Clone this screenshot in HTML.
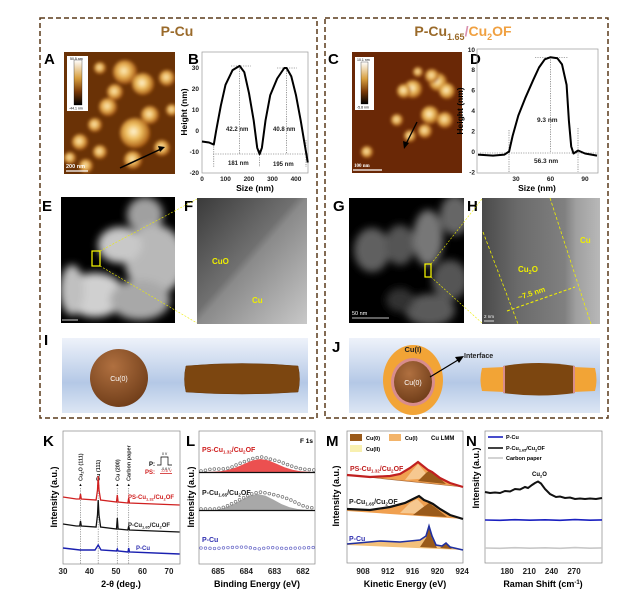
<!DOCTYPE html>
<html><head><meta charset="utf-8"><style>
html,body{margin:0;padding:0;background:#fff;}
svg{display:block;font-family:"Liberation Sans",sans-serif;font-weight:bold;}
</style></head><body>
<svg width="640" height="611" viewBox="0 0 640 611" xmlns="http://www.w3.org/2000/svg">
<defs>
<filter id="bl" x="-20%" y="-20%" width="140%" height="140%"><feGaussianBlur stdDeviation="1.6"/></filter>
<filter id="bl4" x="-30%" y="-30%" width="160%" height="160%"><feGaussianBlur stdDeviation="4"/></filter>
<radialGradient id="afm" cx="0.45" cy="0.45" r="0.55"><stop offset="0" stop-color="#fff6d8"/><stop offset="0.45" stop-color="#f0c060"/><stop offset="1" stop-color="#a85a10"/></radialGradient>
<radialGradient id="afm2" cx="0.45" cy="0.45" r="0.55"><stop offset="0" stop-color="#fff0c0"/><stop offset="0.5" stop-color="#e8b050"/><stop offset="1" stop-color="#a05010"/></radialGradient>
<linearGradient id="cbar" x1="0" y1="0" x2="0" y2="1"><stop offset="0" stop-color="#fff"/><stop offset="0.4" stop-color="#d8a040"/><stop offset="0.7" stop-color="#7a3a08"/><stop offset="1" stop-color="#000"/></linearGradient>
<linearGradient id="blue" x1="0" y1="0" x2="0" y2="1"><stop offset="0" stop-color="#eef2fa"/><stop offset="0.6" stop-color="#b4c8e6"/><stop offset="1" stop-color="#dde6f4"/></linearGradient>
<radialGradient id="sph" cx="0.4" cy="0.3" r="0.75"><stop offset="0" stop-color="#b07040"/><stop offset="1" stop-color="#6e3c18"/></radialGradient>
<linearGradient id="fimg" x1="0" y1="0" x2="1" y2="1"><stop offset="0" stop-color="#3a3a3a"/><stop offset="0.45" stop-color="#707070"/><stop offset="0.5" stop-color="#8a8a8a"/><stop offset="1" stop-color="#c8c8c8"/></linearGradient>
<linearGradient id="himg" x1="0" y1="0" x2="1" y2="0"><stop offset="0" stop-color="#4a4a4a"/><stop offset="0.3" stop-color="#6a6a6a"/><stop offset="0.7" stop-color="#808080"/><stop offset="0.8" stop-color="#a0a0a0"/><stop offset="1" stop-color="#b8b8b8"/></linearGradient>
<clipPath id="cA"><rect x="64" y="52" width="111" height="122"/></clipPath>
<clipPath id="cC"><rect x="352" y="52" width="110" height="121"/></clipPath>
<clipPath id="cE"><rect x="61" y="197" width="114" height="126"/></clipPath>
<clipPath id="cG"><rect x="349" y="198" width="115" height="125"/></clipPath>
</defs>

<rect x="40" y="18" width="277" height="400" fill="none" stroke="#5a3a1a" stroke-width="1.5" stroke-dasharray="5,3"/>
<rect x="325" y="18" width="283" height="400" fill="none" stroke="#5a3a1a" stroke-width="1.5" stroke-dasharray="5,3"/>
<text x="177" y="36" font-size="14" fill="#9a6a2a" text-anchor="middle">P-Cu</text>
<text x="463" y="36" font-size="14" text-anchor="middle"><tspan fill="#9a6a2a">P-Cu</tspan><tspan fill="#9a6a2a" font-size="9" dy="4">1.65</tspan><tspan fill="#d890b0" dy="-4">/</tspan><tspan fill="#f0a040">Cu</tspan><tspan fill="#f0a040" font-size="9" dy="4">2</tspan><tspan fill="#f0a040" dy="-4">OF</tspan></text>

<g font-size="15" fill="#000">
<text x="44" y="64">A</text><text x="188" y="64">B</text>
<text x="328" y="64">C</text><text x="470" y="64">D</text>
<text x="42" y="211">E</text><text x="184" y="211">F</text>
<text x="333" y="211">G</text><text x="467" y="211">H</text>
<text x="44" y="345">I</text><text x="332" y="352">J</text>
<text x="43" y="446">K</text><text x="186" y="446">L</text>
<text x="326" y="446">M</text><text x="466" y="446">N</text>
</g>

<g clip-path="url(#cA)">
<rect x="64" y="52" width="111" height="122" fill="#6a3206"/>
<g filter="url(#bl)">
<circle cx="125" cy="72" r="12" fill="url(#afm2)"/><circle cx="143" cy="84" r="11" fill="url(#afm)"/>
<circle cx="115" cy="92" r="8" fill="url(#afm2)"/><circle cx="150" cy="115" r="9" fill="url(#afm2)"/>
<circle cx="108" cy="107" r="9" fill="url(#afm2)"/><circle cx="95" cy="125" r="7" fill="url(#afm2)"/>
<circle cx="135" cy="133" r="15" fill="url(#afm)"/><circle cx="162" cy="148" r="8" fill="url(#afm2)"/>
<circle cx="133" cy="160" r="9" fill="url(#afm2)"/><circle cx="100" cy="152" r="7" fill="url(#afm2)"/>
<circle cx="80" cy="142" r="8" fill="url(#afm2)"/><circle cx="70" cy="158" r="6" fill="url(#afm2)"/>
<circle cx="167" cy="78" r="8" fill="url(#afm2)"/><circle cx="100" cy="68" r="6" fill="url(#afm2)"/>
<circle cx="172" cy="110" r="6" fill="url(#afm2)"/><circle cx="86" cy="166" r="7" fill="url(#afm2)"/>
</g>
</g>
<rect x="67" y="56" width="21" height="55" fill="#fff"/>
<rect x="74" y="60" width="8" height="45" fill="url(#cbar)" stroke="#000" stroke-width="0.3"/>
<text x="70" y="60" font-size="3.5" font-weight="normal">50.5 nm</text>
<text x="69" y="109.5" font-size="3.5" font-weight="normal">-44.1 nm</text>
<line x1="120" y1="168" x2="161" y2="149" stroke="#000" stroke-width="1.5"/>
<polygon points="165,147 158,146 160,152" fill="#000"/>
<line x1="66" y1="171" x2="88" y2="171" stroke="#fff" stroke-width="1.2"/>
<text x="66" y="168" font-size="5.5" fill="#fff">200 nm</text>

<rect x="202" y="52" width="106" height="121" fill="none" stroke="#999" stroke-width="0.7"/>
<g font-size="6.5" fill="#222" text-anchor="end">
<text x="199" y="70">30</text><text x="199" y="91">20</text><text x="199" y="112">10</text><text x="199" y="133">0</text><text x="199" y="154">-10</text><text x="199" y="175">-20</text>
</g>
<g font-size="6.5" fill="#222" text-anchor="middle">
<text x="202" y="181">0</text><text x="225.5" y="181">100</text><text x="249" y="181">200</text><text x="272.5" y="181">300</text><text x="296" y="181">400</text>
</g>
<text x="255" y="191" font-size="8.5" text-anchor="middle">Size (nm)</text>
<text transform="translate(187,112) rotate(-90)" font-size="8.5" text-anchor="middle">Height (nm)</text>
<g stroke="#555" stroke-width="0.6" stroke-dasharray="1.2,1.2" fill="none">
<line x1="213" y1="154" x2="308" y2="154"/>
<line x1="239.6" y1="66" x2="239.6" y2="154"/><line x1="286.6" y1="68" x2="286.6" y2="154"/>
<line x1="213.8" y1="144" x2="213.8" y2="167"/><line x1="259.6" y1="150" x2="259.6" y2="167"/><line x1="306" y1="140" x2="306" y2="167"/>
<line x1="231" y1="66" x2="251" y2="66"/><line x1="277" y1="68" x2="297" y2="68"/>
</g>
<path d="M202,141.5 L209,142.5 L213.8,144.6 L216.1,131 L220.8,105.8 L225.5,84.8 L232.6,70.1 L239.6,65.9 L244.3,72.2 L249,93.2 L253.7,120.5 L257.2,147.8 L259.6,154.1 L261.9,147.8 L265.5,120.5 L270.2,95.3 L277.2,78.5 L284.3,68 L286.6,68 L291.3,76.4 L296,95.3 L300.7,120.5 L304.2,141.5 L307.8,162.5" fill="none" stroke="#000" stroke-width="2" stroke-linejoin="round"/>
<g font-size="6" fill="#222"><text x="226" y="131">42.2 nm</text><text x="273" y="131">40.8 nm</text><text x="228" y="165">181 nm</text><text x="273" y="166">195 nm</text></g>

<g clip-path="url(#cC)">
<rect x="352" y="52" width="110" height="121" fill="#6a2806"/>
<g filter="url(#bl)">
<circle cx="413" cy="89" r="9" fill="url(#afm)"/><circle cx="404" cy="91" r="7" fill="url(#afm)"/>
<circle cx="438" cy="82" r="9" fill="url(#afm)"/><circle cx="447" cy="91" r="8" fill="url(#afm)"/>
<circle cx="432" cy="76" r="7" fill="url(#afm2)"/><circle cx="430" cy="115" r="9" fill="url(#afm)"/>
<circle cx="445" cy="120" r="8" fill="url(#afm2)"/><circle cx="425" cy="131" r="7" fill="url(#afm2)"/>
<circle cx="397" cy="120" r="6" fill="url(#afm2)"/><circle cx="410" cy="136" r="6" fill="url(#afm2)"/>
<circle cx="367" cy="152" r="6" fill="url(#afm2)"/><circle cx="418" cy="72" r="5" fill="url(#afm2)"/>
</g>
</g>
<rect x="355" y="57" width="19" height="53" fill="#fff"/>
<rect x="361" y="62" width="7" height="42" fill="url(#cbar)" stroke="#000" stroke-width="0.3"/>
<text x="357" y="61" font-size="3.5" font-weight="normal">10.1 nm</text>
<text x="357" y="108.5" font-size="3.5" font-weight="normal">-5.8 nm</text>
<line x1="417" y1="122" x2="406" y2="144" stroke="#000" stroke-width="1.3"/>
<polygon points="404,149 403,141 409,143" fill="#000"/>
<line x1="353" y1="170" x2="382" y2="170" stroke="#fff" stroke-width="1.2"/>
<text x="354" y="167" font-size="5" fill="#fff" font-family="Liberation Serif,serif">100 nm</text>

<rect x="477" y="49" width="121" height="124" fill="none" stroke="#999" stroke-width="0.7"/>
<g font-size="6.5" fill="#222" text-anchor="end">
<text x="475" y="52">10</text><text x="475" y="72">8</text><text x="475" y="92.5">6</text><text x="475" y="113">4</text><text x="475" y="133.5">2</text><text x="475" y="154">0</text><text x="475" y="174.5">-2</text>
</g>
<g font-size="6.5" fill="#222" text-anchor="middle"><text x="516" y="181">30</text><text x="550.5" y="181">60</text><text x="585" y="181">90</text></g>
<text x="537" y="191" font-size="8.5" text-anchor="middle">Size (nm)</text>
<text transform="translate(463,111) rotate(-90)" font-size="8.5" text-anchor="middle">Height (nm)</text>
<g stroke="#555" stroke-width="0.6" stroke-dasharray="1.2,1.2" fill="none">
<line x1="480" y1="153" x2="598" y2="153"/>
<line x1="509" y1="130" x2="509" y2="172"/><line x1="578" y1="128" x2="578" y2="172"/>
<line x1="550.5" y1="57" x2="550.5" y2="153"/><line x1="535" y1="57.5" x2="568" y2="57.5"/>
</g>
<path d="M478,154.6 L493,155.6 L504.5,154.6 L509.1,151.5 L512.6,136 L518.3,115.6 L525.2,98.2 L533.3,79.8 L539,67.5 L544.8,59.3 L550.5,57.2 L557.4,58.3 L562,64.4 L566.6,84.9 L568.9,120.8 L571.2,146.4 L573.5,153.5 L578.1,150.5 L585,153.5 L597,155.6" fill="none" stroke="#000" stroke-width="2" stroke-linejoin="round"/>
<g font-size="6.5" fill="#222"><text x="537" y="122">9.3 nm</text><text x="534" y="163">56.3 nm</text></g>

<g clip-path="url(#cE)">
<rect x="61" y="197" width="114" height="126" fill="#000"/>
<g filter="url(#bl4)" fill="#b8b8b8">
<ellipse cx="145" cy="215" rx="18" ry="18" fill="#a0a0a0"/>
<ellipse cx="155" cy="260" rx="30" ry="35"/>
<ellipse cx="120" cy="245" rx="22" ry="18" fill="#c8c8c8"/>
<ellipse cx="95" cy="295" rx="30" ry="22" fill="#d0d0d0"/>
<ellipse cx="140" cy="300" rx="30" ry="20" fill="#a8a8a8"/>
<ellipse cx="72" cy="290" rx="12" ry="25" fill="#c0c0c0"/>
</g>
</g>
<line x1="62" y1="320" x2="78" y2="320" stroke="#fff" stroke-width="0.8"/>
<rect x="92" y="251" width="8" height="15" fill="none" stroke="#ff0" stroke-width="1.2"/>
<g stroke="#ee0" stroke-width="0.6" stroke-dasharray="2,1.5"><line x1="100" y1="251" x2="197" y2="199"/><line x1="100" y1="266" x2="197" y2="323"/></g>

<rect x="197" y="198" width="110" height="126" fill="url(#fimg)"/>
<text x="212" y="264" font-size="8" fill="#ee0">CuO</text>
<text x="252" y="303" font-size="8" fill="#ee0">Cu</text>

<g clip-path="url(#cG)">
<rect x="349" y="198" width="115" height="125" fill="#000"/>
<g filter="url(#bl4)">
<ellipse cx="372" cy="250" rx="18" ry="22" fill="#606060"/>
<ellipse cx="400" cy="245" rx="15" ry="20" fill="#555"/>
<ellipse cx="428" cy="238" rx="15" ry="28" fill="#777"/>
<ellipse cx="455" cy="215" rx="15" ry="20" fill="#666"/>
<ellipse cx="450" cy="280" rx="18" ry="20" fill="#555"/>
<ellipse cx="430" cy="310" rx="25" ry="16" fill="#5a5a5a"/>
<ellipse cx="400" cy="300" rx="14" ry="12" fill="#333"/>
</g>
</g>
<line x1="352" y1="318" x2="389" y2="318" stroke="#fff" stroke-width="0.8"/>
<text x="352" y="315" font-size="5.5" fill="#fff" font-weight="normal">50 nm</text>
<rect x="425" y="264" width="6" height="13" fill="none" stroke="#ff0" stroke-width="1.2"/>
<g stroke="#ee0" stroke-width="0.6" stroke-dasharray="2,1.5"><line x1="431" y1="264" x2="482" y2="199"/><line x1="431" y1="277" x2="482" y2="323"/></g>

<rect x="482" y="198" width="118" height="126" fill="url(#himg)"/>
<g stroke="#ee0" stroke-width="0.8" stroke-dasharray="3,2" fill="none">
<line x1="483" y1="232" x2="518" y2="324"/><line x1="550" y1="198" x2="591" y2="324"/>
<line x1="507" y1="311" x2="575" y2="287" stroke-width="1.1"/>
</g>
<text x="518" y="272" font-size="8" fill="#ee0">Cu<tspan font-size="5.5" dy="2">2</tspan><tspan dy="-2">O</tspan></text>
<text transform="translate(519,300) rotate(-18)" font-size="7.5" fill="#ee0">~7.5 nm</text>
<text x="580" y="243" font-size="8" fill="#ee0">Cu</text>
<line x1="484" y1="321" x2="494" y2="321" stroke="#fff" stroke-width="0.8"/>
<text x="484" y="318" font-size="4.5" fill="#fff" font-weight="normal">2 nm</text>

<rect x="62" y="338" width="246" height="75" fill="url(#blue)"/>
<circle cx="119" cy="378" r="29" fill="url(#sph)"/>
<text x="119" y="381" font-size="7" fill="#fff" font-weight="normal" text-anchor="middle">Cu(0)</text>
<path d="M186,366 Q242,361 298,366 Q301,379 298,392 Q242,396 186,392 Q183,379 186,366Z" fill="#7c4610" stroke="#6a3a0c" stroke-width="0.5"/>

<rect x="349" y="338" width="251" height="75" fill="url(#blue)"/>
<ellipse cx="413" cy="380" rx="30" ry="35" fill="#f2a436"/>
<ellipse cx="413" cy="382" rx="22" ry="24" fill="#d88c8c"/>
<ellipse cx="413" cy="382" rx="19" ry="21" fill="url(#sph)"/>
<text x="413" y="352" font-size="7.5" fill="#222" text-anchor="middle">Cu(I)</text>
<text x="413" y="385" font-size="7" fill="#fff" font-weight="normal" text-anchor="middle">Cu(0)</text>
<line x1="430" y1="377" x2="458" y2="360" stroke="#000" stroke-width="1.2"/>
<polygon points="464,356 455,357 459,363" fill="#000"/>
<text x="464" y="358" font-size="7" fill="#222">Interface</text>
<path d="M482,368 L505,367 L505,392 L482,391 Q479,380 482,368Z" fill="#f2a436"/>
<path d="M573,367 L595,368 Q598,380 595,391 L573,392Z" fill="#f2a436"/>
<path d="M503,366 Q539,360 575,366 L575,393 Q539,398 503,393Z" fill="#7c4610"/>
<line x1="504" y1="366" x2="504" y2="393" stroke="#d88c8c" stroke-width="2"/>
<line x1="574" y1="366" x2="574" y2="393" stroke="#d88c8c" stroke-width="2"/>

<rect x="63" y="431" width="117" height="133" fill="none" stroke="#888" stroke-width="0.7"/>
<g stroke="#777" stroke-width="0.7" stroke-dasharray="1.2,1.2">
<line x1="80.5" y1="488" x2="80.5" y2="564"/><line x1="98.2" y1="488" x2="98.2" y2="564"/>
<line x1="117.3" y1="488" x2="117.3" y2="564"/><line x1="128.7" y1="488" x2="128.7" y2="564"/>
</g>
<g font-size="5.5" fill="#222">
<text transform="translate(82.5,481) rotate(-90)">Cu<tspan font-size="4" dy="1">2</tspan><tspan dy="-1">O (111)</tspan></text>
<text transform="translate(100.2,481) rotate(-90)">Cu (111)</text>
<text transform="translate(119.3,481) rotate(-90)">Cu (200)</text>
<text transform="translate(130.7,481) rotate(-90)">Carbon paper</text>
</g>
<g font-size="4" text-anchor="middle"><text x="80.5" y="486">▲</text><text x="98.2" y="486">▲</text><text x="117.3" y="486">▲</text><text x="128.7" y="486">▲</text></g>
<path d="M63,497 L76.3,499 L79.7,499 L80.5,494 L81.3,499 L96.1,500 L97.5,490 L98.2,476 L99,490 L100.6,500 L116.5,502 L117.3,495 L118.1,502 L127.9,503 L128.7,498 L129.5,503 L179.6,505" fill="none" stroke="#d02020" stroke-width="1.3"/>
<path d="M63,524 L76.3,526 L79.7,526 L80.5,521 L81.3,526 L96.1,527 L97.5,515 L98.2,500 L99,515 L100.6,527 L116.5,529 L117.3,518 L118.1,529 L127.9,530 L128.7,526 L129.5,530 L179.6,532" fill="none" stroke="#111" stroke-width="1.3"/>
<path d="M63,548 L80,550 L95,550 L98.2,545 L101,550 L116.5,551 L117.3,549 L118.1,551 L128,552 L128.7,548 L129.5,552 L179.6,554" fill="none" stroke="#1a20b0" stroke-width="1.4"/>
<g font-size="6"><text x="128" y="499" fill="#d02020">PS-Cu<tspan font-size="4" dy="1.5">1.32</tspan><tspan dy="-1.5">/Cu</tspan><tspan font-size="4" dy="1.5">2</tspan><tspan dy="-1.5">OF</tspan></text>
<text x="128" y="527" fill="#222">P-Cu<tspan font-size="4" dy="1.5">1.65</tspan><tspan dy="-1.5">/Cu</tspan><tspan font-size="4" dy="1.5">2</tspan><tspan dy="-1.5">OF</tspan></text>
<text x="136" y="550" fill="#3030b0">P-Cu</text></g>
<text x="149" y="466" font-size="6">P:</text>
<path d="M157,465 L161,465 L161,457 L168,457 L168,465 L172,465" fill="none" stroke="#000" stroke-width="0.7"/>
<text x="162" y="455" font-size="3.5" font-weight="normal">0 V</text><text x="161" y="470" font-size="3.5" font-weight="normal">-0.6 V</text>
<text x="145" y="474" font-size="6" fill="#d02020">PS:</text>
<text x="161" y="472" font-size="4" fill="#d02020" font-weight="normal">-0.6 V</text>
<line x1="160" y1="473.5" x2="172" y2="473.5" stroke="#d02020" stroke-width="0.8"/>
<g font-size="8" fill="#222" text-anchor="middle"><text x="63" y="574">30</text><text x="89.5" y="574">40</text><text x="116" y="574">50</text><text x="142.5" y="574">60</text><text x="169" y="574">70</text></g>
<text x="121" y="587" font-size="9" text-anchor="middle">2-θ (deg.)</text>
<text transform="translate(57,497) rotate(-90)" font-size="9" text-anchor="middle">Intensity (a.u.)</text>

<rect x="199" y="431" width="116" height="133" fill="none" stroke="#888" stroke-width="0.7"/>
<path d="M204.5,472 L212.5,471.8 L220.5,471.2 L228.5,469.8 L236.5,467.2 L244.5,463.7 L252.5,460.4 L260.5,459 L268.5,460.4 L276.5,463.7 L284.5,467.2 L292.5,469.8 L300.5,471.2 L308.5,471.8 L312,472Z" fill="#ec5050"/>
<path d="M209,510 L217.6,509.7 L225.6,507.3 L233.6,504.1 L241.6,499.8 L249.6,495.7 L257.6,494 L265.6,495.7 L273.6,499.8 L281.6,504.1 L289.6,507.3 L297.6,509 L305.6,509.7 L312,510Z" fill="#a8a8a8"/>
<g fill="none" stroke-linecap="round" stroke-dasharray="0,4.5">
<path d="M201,471 L212,469 L222,469 L230,468 L238,464 L246,461 L254,458 L262,457 L270,459 L278,461 L286,464 L294,467 L302,469 L314,470" stroke="#777" stroke-width="3.5"/>
<path d="M201,471 L212,469 L222,469 L230,468 L238,464 L246,461 L254,458 L262,457 L270,459 L278,461 L286,464 L294,467 L302,469 L314,470" stroke="#fff" stroke-width="2"/>
<path d="M201,509 L215,509 L225,507 L235,502 L243,498 L251,494 L259,492 L267,493 L275,495 L283,497 L291,500 L299,504 L306,507 L314,508" stroke="#777" stroke-width="3.5"/>
<path d="M201,509 L215,509 L225,507 L235,502 L243,498 L251,494 L259,492 L267,493 L275,495 L283,497 L291,500 L299,504 L306,507 L314,508" stroke="#fff" stroke-width="2"/>
<path d="M201,548 L215,548.5 L230,547.5 L245,547 L258,549 L270,547.5 L285,548.5 L300,548 L314,547.5" stroke="#6a6ac8" stroke-width="3.3"/>
<path d="M201,548 L215,548.5 L230,547.5 L245,547 L258,549 L270,547.5 L285,548.5 L300,548 L314,547.5" stroke="#fff" stroke-width="1.9"/>
</g>
<line x1="199" y1="472.5" x2="315" y2="472.5" stroke="#111" stroke-width="1.2"/>
<line x1="199" y1="510.5" x2="315" y2="510.5" stroke="#111" stroke-width="1.2"/>
<text x="300" y="443" font-size="6.5">F 1s</text>
<text x="202" y="452" font-size="7" fill="#d02020">PS-Cu<tspan font-size="4.5" dy="1.5">1.32</tspan><tspan dy="-1.5">/Cu</tspan><tspan font-size="4.5" dy="1.5">2</tspan><tspan dy="-1.5">OF</tspan></text>
<text x="202" y="495" font-size="7" fill="#222">P-Cu<tspan font-size="4.5" dy="1.5">1.65</tspan><tspan dy="-1.5">/Cu</tspan><tspan font-size="4.5" dy="1.5">2</tspan><tspan dy="-1.5">OF</tspan></text>
<text x="202" y="542" font-size="7" fill="#3030b0">P-Cu</text>
<g font-size="8" fill="#222" text-anchor="middle"><text x="218" y="574">685</text><text x="246.3" y="574">684</text><text x="274.6" y="574">683</text><text x="302.9" y="574">682</text></g>
<text x="257" y="587" font-size="9" text-anchor="middle">Binding Energy (eV)</text>
<text transform="translate(194,497) rotate(-90)" font-size="9" text-anchor="middle">Intensity (a.u.)</text>

<rect x="347" y="431" width="116" height="132" fill="none" stroke="#888" stroke-width="0.7"/>
<rect x="350" y="434" width="12" height="7" fill="#9a5a1a"/><text x="366" y="440" font-size="5.5">Cu(0)</text>
<rect x="389" y="434" width="12" height="7" fill="#f3b46a"/><text x="405" y="440" font-size="5.5">Cu(I)</text>
<text x="431" y="440" font-size="6">Cu LMM</text>
<rect x="350" y="445" width="12" height="7" fill="#f8f0b0"/><text x="366" y="451" font-size="5.5">Cu(II)</text>
<path d="M347,475 L370,477 L390,476 L400,474 L410,468 L418,462 L423,466 L428,470 L432,472 L440,478 L450,483 L463,487 L347,475Z" fill="#f0a050"/>
<path d="M405,480 L412,471 L418,464 L424,471 L430,478 Z" fill="#f6c890"/>
<path d="M418,481 L426,473 L430,470 L436,475 L446,484Z" fill="#9a5a1a"/>
<line x1="347" y1="475" x2="463" y2="487" stroke="#a06030" stroke-width="0.6"/>
<path d="M347,475 L370,477 L390,476 L400,474 L410,468 L418,462 L423,466 L428,470 L432,472 L440,478 L450,483 L463,487" fill="none" stroke="#c02020" stroke-width="2.2"/>
<path d="M347,509 L370,510 L390,507 L405,503 L413,499 L419,496 L424,500 L429,502 L433,504 L440,509 L450,515 L463,519 L347,511Z" fill="#f0a050"/>
<path d="M400,513 L410,503 L417,499 L423,505 L428,514Z" fill="#f6c890"/>
<path d="M413,515 L422,508 L429,503 L436,508 L447,517Z" fill="#9a5a1a"/>
<path d="M347,509 L370,510 L390,507 L405,503 L413,499 L419,496 L424,500 L429,502 L433,504 L440,509 L450,515 L463,519" fill="none" stroke="#111" stroke-width="2.2"/>
<path d="M347,544 L380,541 L400,542 L420,540 L426,536 L429,526 L432,536 L436,545 L442,546 L446,543 L450,547 L463,550 L347,545Z" fill="#f3c07a"/>
<path d="M420,547 L426,538 L429,527 L432,538 L437,548Z M440,548 L446,543.5 L452,549Z" fill="#9a5a1a"/>
<path d="M347,544 L380,541 L400,542 L420,540 L426,536 L429,526 L432,536 L436,545 L442,546 L446,543 L450,547 L463,550" fill="none" stroke="#2030a0" stroke-width="1.6"/>
<text x="350" y="471" font-size="7" fill="#c02020">PS-Cu<tspan font-size="4.5" dy="1.5">1.32</tspan><tspan dy="-1.5">/Cu</tspan><tspan font-size="4.5" dy="1.5">2</tspan><tspan dy="-1.5">OF</tspan></text>
<text x="349" y="504" font-size="7" fill="#222">P-Cu<tspan font-size="4.5" dy="1.5">1.65</tspan><tspan dy="-1.5">/Cu</tspan><tspan font-size="4.5" dy="1.5">2</tspan><tspan dy="-1.5">OF</tspan></text>
<text x="349" y="541" font-size="7" fill="#3030b0">P-Cu</text>
<g font-size="8" fill="#222" text-anchor="middle"><text x="363" y="574">908</text><text x="387.8" y="574">912</text><text x="412.6" y="574">916</text><text x="437.4" y="574">920</text><text x="462.2" y="574">924</text></g>
<text x="405" y="587" font-size="9" text-anchor="middle">Kinetic Energy (eV)</text>
<text transform="translate(339,496) rotate(-90)" font-size="9" text-anchor="middle">Intensity (a.u.)</text>

<rect x="485" y="431" width="117" height="132" fill="none" stroke="#888" stroke-width="0.7"/>
<line x1="488" y1="437" x2="503" y2="437" stroke="#1a20c0" stroke-width="1.6"/><text x="506" y="439" font-size="5.5">P-Cu</text>
<line x1="488" y1="448" x2="503" y2="448" stroke="#111" stroke-width="1.6"/><text x="506" y="450" font-size="5.5">P-Cu<tspan font-size="3.8" dy="1.3">1.65</tspan><tspan dy="-1.3">/Cu</tspan><tspan font-size="3.8" dy="1.3">2</tspan><tspan dy="-1.3">OF</tspan></text>
<line x1="488" y1="458" x2="503" y2="458" stroke="#c8c8c8" stroke-width="1.6"/><text x="506" y="460" font-size="5.5">Carbon paper</text>
<text x="532" y="476" font-size="6">Cu<tspan font-size="4" dy="1.3">2</tspan><tspan dy="-1.3">O</tspan></text>
<path d="M485,492 L490,493 L495,492.5 L500,493 L505,491 L510,491.5 L515,489 L520,489.5 L525,487 L528,488 L532,485 L535,483 L538,481.5 L541,483.5 L545,489 L550,494 L556,497 L560,496.5 L565,498 L570,497.5 L575,499 L580,498.5 L585,499 L590,498.5 L596,499 L602,498" fill="none" stroke="#111" stroke-width="2"/>
<path d="M485,520 L500,520.3 L515,519.7 L530,520.2 L545,519.8 L560,520.3 L575,519.6 L590,520.2 L602,519.9" fill="none" stroke="#1a20c0" stroke-width="1.6"/>
<path d="M485,548 L500,548.3 L515,547.7 L530,548.2 L545,547.8 L560,548.3 L575,547.6 L590,548.2 L602,547.9" fill="none" stroke="#c8c8c8" stroke-width="1.6"/>
<g font-size="8" fill="#222" text-anchor="middle"><text x="507" y="574">180</text><text x="529.3" y="574">210</text><text x="551.6" y="574">240</text><text x="574" y="574">270</text></g>
<text x="543" y="587" font-size="9" text-anchor="middle">Raman Shift (cm<tspan font-size="6" dy="-3">-1</tspan><tspan dy="3">)</tspan></text>
<text transform="translate(479,478) rotate(-90)" font-size="9" text-anchor="middle">Intensity (a.u.)</text>
</svg>
</body></html>
